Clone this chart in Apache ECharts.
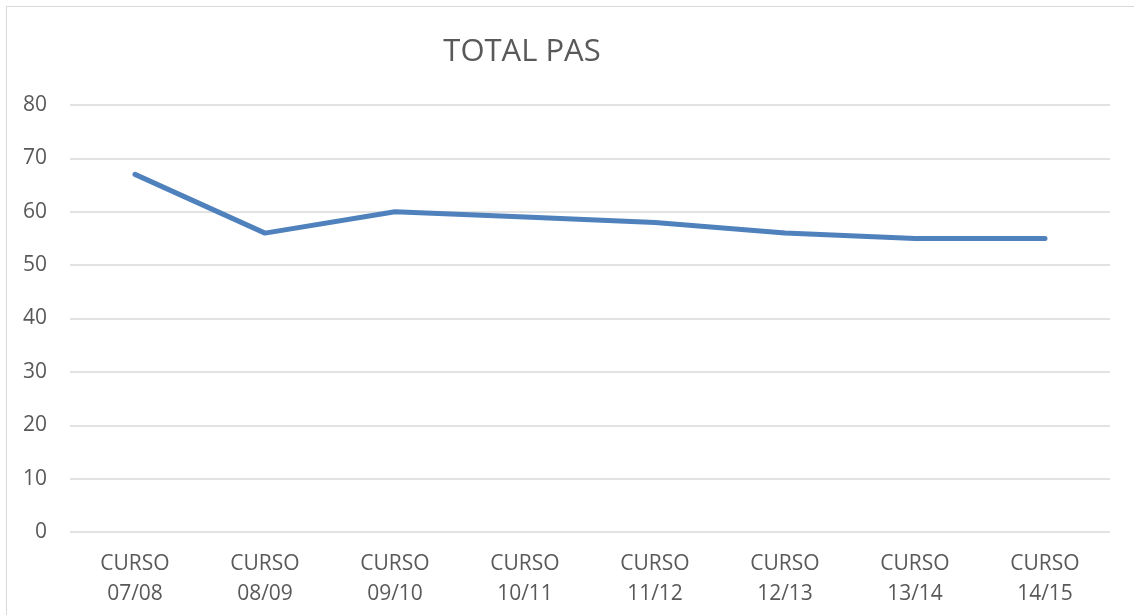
<!DOCTYPE html>
<html>
<head>
<meta charset="utf-8">
<title>TOTAL PAS</title>
<script src="https://cdn.jsdelivr.net/npm/echarts@6/dist/echarts.min.js"></script>
<style>
  html, body { margin: 0; padding: 0; background: #fff; }
  #frame { position: absolute; left: 6px; top: 6px; width: 1140px; height: 620px; border: 1px solid #d9d9d9; box-sizing: border-box; }
  #container { position: absolute; left: 0; top: 0; width: 1134px; height: 615px; }
</style>
</head>
<body>
<div id="frame"></div>
<div id="container"></div>
<script>
// datos
var cursos = ['CURSO\n07/08', 'CURSO\n08/09', 'CURSO\n09/10', 'CURSO\n10/11',
              'CURSO\n11/12', 'CURSO\n12/13', 'CURSO\n13/14', 'CURSO\n14/15'];
var totalPas = [67, 56, 60, 59, 58, 56, 55, 55];
var yMin = 0, yMax = 80, yStep = 10;

var myChart = echarts.init(document.getElementById('container'));

var option = {
    animation: false,
    textStyle: { fontFamily: 'Open Sans' },
    title: {
        text: 'TOTAL PAS',
        left: 517,
        top: 32,
        textAlign: 'center',
        textStyle: { fontFamily: 'Open Sans', fontSize: 31, fontWeight: 'normal', color: '#595959' }
    },
    grid: { left: 70, right: 24, top: 105, bottom: 83 },
    xAxis: {
        type: 'category',
        data: cursos,
        axisLine: { show: false },
        axisTick: { show: false },
        axisLabel: { color: '#595959', fontSize: 21, lineHeight: 30, margin: 17, interval: 0 }
    },
    yAxis: {
        type: 'value',
        min: yMin, max: yMax, interval: yStep,
        axisLine: { show: false },
        axisTick: { show: false },
        axisLabel: { color: '#595959', fontSize: 21, margin: 23 },
        splitLine: { lineStyle: { color: '#d9d9d9', width: 1.5 } }
    },
    series: [{
        name: 'TOTAL PAS',
        type: 'line',
        data: totalPas,
        symbol: 'none',
        lineStyle: { color: '#4f81bd', width: 5, cap: 'round', join: 'round' }
    }]
};

myChart.setOption(option);
</script>
</body>
</html>
